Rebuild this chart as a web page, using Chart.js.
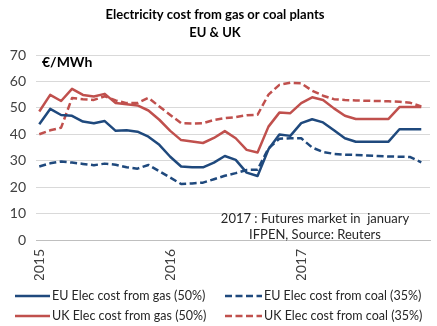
<!DOCTYPE html>
<html>
<head>
<meta charset="utf-8">
<script src="https://cdn.jsdelivr.net/npm/chart.js@4.4.1/dist/chart.umd.min.js"></script>
<style>
  html, body { margin: 0; padding: 0; background: #fff; }
  #wrap { width: 437px; height: 326px; }
</style>
</head>
<body>
<div id="wrap"><canvas id="myChart" width="437" height="326"></canvas></div>
<script>
// Monthly points, Jan 2015 -> Dec 2017
const months = [
  '2015-01','2015-02','2015-03','2015-04','2015-05','2015-06','2015-07','2015-08','2015-09','2015-10','2015-11','2015-12',
  '2016-01','2016-02','2016-03','2016-04','2016-05','2016-06','2016-07','2016-08','2016-09','2016-10','2016-11','2016-12',
  '2017-01','2017-02','2017-03','2017-04','2017-05','2017-06','2017-07','2017-08','2017-09','2017-10','2017-11','2017-12'
];
const yearLabels = ['2015', '2016', '2017'];

// €/MWh
const euGas  = [43.8, 49.6, 47.3, 47.0, 44.8, 44.2, 45.0, 41.3, 41.5, 41.0, 39.1, 36.0,
                31.5, 27.8, 27.5, 27.5, 29.3, 31.8, 30.3, 25.5, 24.2, 34.3, 39.9, 39.4,
                44.2, 45.7, 44.5, 41.5, 38.5, 37.2, 37.2, 37.2, 37.2, 41.9, 41.9, 41.9];
const euCoal = [27.8, 29.0, 29.7, 29.3, 28.8, 28.3, 28.9, 28.5, 27.5, 27.0, 28.4, 26.0,
                23.6, 21.2, 21.4, 21.7, 23.0, 24.3, 25.3, 26.5, 26.6, 34.7, 38.3, 38.5,
                38.5, 35.0, 33.3, 32.6, 32.3, 32.2, 32.0, 31.8, 31.6, 31.5, 31.4, 29.4];
const ukGas  = [48.6, 54.9, 52.6, 57.2, 54.9, 54.3, 55.3, 51.8, 51.4, 50.9, 49.0, 45.5,
                41.3, 37.8, 37.3, 36.7, 38.6, 41.2, 38.5, 34.1, 33.1, 42.9, 48.2, 48.0,
                51.8, 54.0, 53.0, 49.8, 47.0, 45.8, 45.8, 45.8, 45.8, 50.3, 50.3, 50.3];
const ukCoal = [40.0, 41.5, 42.5, 53.7, 53.3, 53.0, 54.4, 52.8, 51.8, 51.8, 53.8, 50.5,
                47.3, 44.2, 44.1, 44.2, 45.4, 46.1, 46.5, 47.2, 47.4, 55.0, 58.7, 59.5,
                59.3, 56.5, 54.6, 53.3, 53.0, 52.8, 52.7, 52.6, 52.5, 52.3, 51.9, 50.5];

const seriesNames = ['EU Elec cost from gas (50%)', 'EU Elec cost from coal (35%)',
                     'UK Elec cost from gas (50%)', 'UK Elec cost from coal (35%)'];
const titleLines = ['Electricity cost from gas or coal plants', 'EU & UK'];
const unitLabel = '€/MWh';
const noteLines = ['2017 : Futures market in  january', 'IFPEN, Source: Reuters'];

const BLUE = '#1F497D';
const RED = '#C0504D';
const DASH = [7, 3.5];
const FONT = 'Lato';

function points(arr) {
  return arr.map((v, i) => ({ x: i, y: v }));
}

function mkSet(label, values, color, dash) {
  return {
    label: label,
    data: points(values),
    borderColor: color,
    backgroundColor: color,
    borderWidth: 2.5,
    borderDash: dash,
    borderCapStyle: 'butt',
    borderJoinStyle: 'round',
    pointRadius: 0,
    tension: 0,
    fill: false
  };
}

// draws the unit, the note and the legend
const extras = {
  id: 'extras',
  afterDraw(chart) {
    const ctx = chart.ctx;
    ctx.save();
    ctx.fillStyle = '#000';
    ctx.textBaseline = 'middle';
    ctx.textAlign = 'left';
    ctx.font = 'bold 14px ' + FONT;
    ctx.fillText(unitLabel, 42, 62);

    ctx.font = '13px ' + FONT;
    ctx.textAlign = 'center';
    ctx.fillStyle = '#262626';
    ctx.fillText(noteLines[0], 315, 219);
    ctx.fillText(noteLines[1], 315, 235);

    // legend, 2 x 2
    ctx.font = '12.5px ' + FONT;
    const cols = [[15, 50], [225, 262]];
    const rows = [296, 316];
    chart.data.datasets.forEach((ds, k) => {
      const c = cols[k % 2];
      const y = rows[Math.floor(k / 2)];
      ctx.strokeStyle = ds.borderColor;
      ctx.lineWidth = ds.borderWidth;
      ctx.setLineDash(ds.borderDash || []);
      ctx.beginPath();
      ctx.moveTo(c[0], y);
      ctx.lineTo(c[1], y);
      ctx.stroke();
      ctx.setLineDash([]);
      ctx.textAlign = 'left';
      ctx.fillStyle = '#262626';
      ctx.fillText(ds.label, c[1] + 2, y);
    });
    ctx.restore();
  }
};

const ctx = document.getElementById('myChart').getContext('2d');
const chart = new Chart(ctx, {
  type: 'line',
  data: {
    labels: months,
    datasets: [
      mkSet(seriesNames[0], euGas, BLUE, []),
      mkSet(seriesNames[1], euCoal, BLUE, DASH),
      mkSet(seriesNames[2], ukGas, RED, []),
      mkSet(seriesNames[3], ukCoal, RED, DASH)
    ]
  },
  options: {
    responsive: false,
    animation: false,
    layout: { padding: { top: 0, left: 0, right: 7, bottom: 46 } },
    plugins: {
      legend: { display: false },
      tooltip: { enabled: false },
      title: {
        display: true,
        text: titleLines,
        color: '#000',
        font: { family: FONT, size: 13, weight: 'bold', lineHeight: 1.4 },
        padding: { top: 6, bottom: 12.6 }
      }
    },
    scales: {
      x: {
        type: 'linear',
        min: -0.3,
        max: 35.8,
        grid: { display: false, drawTicks: false },
        border: { display: true, color: '#bfbfbf', width: 1 },
        ticks: {
          autoSkip: false,
          minRotation: 90,
          maxRotation: 90,
          padding: 9,
          color: '#404040',
          font: { family: FONT, size: 14 },
          callback: (v) => yearLabels[v / 12]
        },
        afterBuildTicks: (scale) => {
          scale.ticks = yearLabels.map((y, i) => ({ value: i * 12 }));
        },
        afterFit: (scale) => { scale.height = 40; }
      },
      y: {
        min: 0,
        max: 70,
        grid: { color: '#d9d9d9', lineWidth: 1, drawTicks: false },
        border: { display: false },
        ticks: {
          stepSize: 10,
          padding: 10,
          color: '#404040',
          font: { family: FONT, size: 14 }
        },
        afterFit: (scale) => { scale.width = 36; }
      }
    }
  },
  plugins: [extras]
});
</script>
</body>
</html>
